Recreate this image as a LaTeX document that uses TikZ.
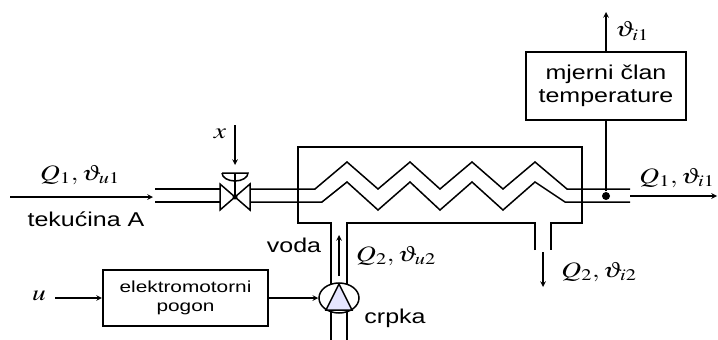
\documentclass[tikz,border=0pt]{standalone}
\usepackage{mathptmx}
\usepackage[no-math]{fontspec}
\newfontfamily\arialfont{Liberation Sans}
\usetikzlibrary{arrows, positioning, shapes.geometric}

\begin{document}
\begin{tikzpicture}[x=1pt, y=-1pt, >=stealth, line width=1.5pt,
	lbl/.style={font=\fontsize{22}{25}\selectfont, xscale=1.25, inner sep=0pt},
	txt/.style={font=\arialfont\fontsize{20}{23}\selectfont, xscale=1.25, inner sep=1pt, align=center},
	blok/.style={draw, rectangle, align=center, inner sep=0pt}]

	\useasboundingbox (0,0) rectangle (718,340);

	% posuda i cijev za vodu
	\draw (331,340) -- (331,223) -- (298,223) -- (298,147) -- (582,147) -- (582,223) -- (551,223) -- (551,250);
	\draw (535,250) -- (535,223) -- (347,223) -- (347,340);

	% cijev tekucine A
	\coordinate (V) at (235,197);
	\draw (155,189) -- (220,189);
	\draw (155,202) -- (220,202);
	\draw (250,189) -- (315,189) -- (347,162) -- (378,189) -- (410,162) -- (440,189)
		-- (472,162) -- (503,189) -- (535,162) -- (567,189) -- (630,189);
	\draw (250,202) -- (322,202) -- (347,182) -- (378,210) -- (410,182) -- (440,210)
		-- (472,182) -- (503,210) -- (535,182) -- (565,202) -- (630,202);

	% ventil
	\draw (220,184) -- (250,210) -- (250,184) -- (220,210) -- cycle;
	\fill (V) circle (2.5pt);
	\coordinate (A) at (235,173);
	\draw (V) -- (A);
	\draw (222,173) -- (248,173) arc (0:180:13 and 8);
	\coordinate (Xin) at (235,125);
	\draw [->] (Xin) -- (235,165);
	\node [lbl] (x) at (220,134) {$x$};

	% ulaz i izlaz
	\coordinate (Lin) at (10,197);
	\coordinate (Lout) at (153,197);
	\draw [->] (Lin) -- (Lout);
	\node [lbl] (Qu1) at (80,175) {$Q_1,\vartheta_{u1}$};
	\node [txt] (tek) at (86,219) {tekućina A};

	\coordinate (Rin) at (630,196);
	\coordinate (Rout) at (717,196);
	\draw [->] (Rin) -- (Rout);
	\node [lbl] (Qi1) at (677,178) {$Q_1,\vartheta_{i1}$};

	% mjerni clan
	\node [blok, txt, minimum width=128pt, minimum height=68pt] (T) at (606,86) {mjerni član\\temperature};
	\node [circle, fill, inner sep=0pt, minimum size=8pt] (D) at (606,196) {};
	\draw (D) -- (T.south);
	\coordinate (Tout) at (606,12);
	\draw [->] (T.north) -- (Tout);
	\node [lbl] (thi1) at (632,31) {$\vartheta_{i1}$};

	% crpka i pogon
	\node [draw, fill=white, ellipse, minimum width=40pt, minimum height=30pt, inner sep=0pt] (P) at (339,298) {};
	\filldraw [fill=blue!10] (326,310) -- (339,284) -- (352,310) -- cycle;
	\node [txt] (crpka) at (395,318) {crpka};

	\node [blok, minimum width=127pt, minimum height=56pt, xscale=1.3,
		font=\arialfont\fontsize{16}{19}\selectfont] (M) at (185.5,298) {elektromotorni\\pogon};
	\coordinate (U) at (55,298);
	\node [lbl] (u) at (39,296) {$u$};
	\draw [->] (U) -- (M.west);
	\draw [->] (M.east) -- (P.west);

	% voda
	\coordinate (Win) at (339,276);
	\coordinate (Wout) at (339,235);
	\draw [->] (Win) -- (Wout);
	\node [txt] (voda) at (294,245) {voda};
	\node [lbl] (Qu2) at (396,256) {$Q_2,\vartheta_{u2}$};

	\coordinate (Oin) at (543,252);
	\coordinate (Oout) at (543,287);
	\draw [->] (Oin) -- (Oout);
	\node [lbl] (Qi2) at (599,272) {$Q_2,\vartheta_{i2}$};

\end{tikzpicture}
\end{document}
